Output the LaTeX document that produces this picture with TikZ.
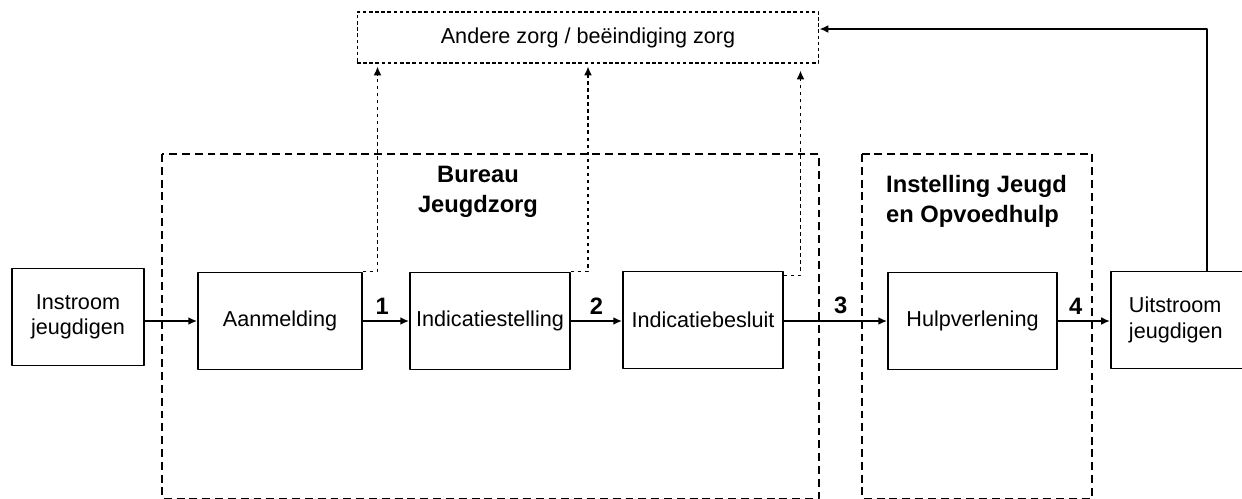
\documentclass[tikz,border=0pt]{standalone}
\usepackage{fontspec}
\setmainfont{Liberation Sans}
\usetikzlibrary{arrows.meta}
\tikzset{
	blok/.style={draw, line width=1.1pt, minimum height=1.94cm, inner sep=1pt, align=center, font=\fontsize{12.3}{14.5}\selectfont},
	zone/.style={draw, line width=1.1pt, dash pattern=on 4.5pt off 2.8pt},
	kop/.style={align=left, font=\bfseries\fontsize{13.5}{17}\selectfont},
	num/.style={above, font=\bfseries\fontsize{13.5}{16}\selectfont},
	flow/.style={->, line width=1.1pt},
	dotflow/.style={->, line width=0.9pt, dash pattern=on 2pt off 2pt}
}
\begin{document}
\begin{tikzpicture}[x=0.02cm, y=-0.02cm, >={Latex[length=5pt,width=4.5pt]}, line join=round]
		\clip (0,0) rectangle (1242,498);
		% zones
		\draw[zone] (162,154) rectangle (819,498.5);
		\draw[zone] (862,154) rectangle (1092,498.5);
		\node[kop, align=center] (bjz) at (478,192) {Bureau\\Jeugdzorg};
		\node[kop, anchor=west] (ijo) at (880,201) {Instelling Jeugd\\en Opvoedhulp};
		% boxes
		\node[draw, line width=0.6pt, dash pattern=on 2pt off 1.5pt, minimum width=9.24cm, minimum height=1.02cm, font=\fontsize{12.3}{14.5}\selectfont] (zorg) at (588,37.5) {Andere zorg / beëindiging zorg};
		\node[blok, minimum width=2.64cm] (instr) at (78,317) {Instroom\\jeugdigen};
		\node[blok, minimum width=3.28cm] (aanm) at (280,321) {Aanmelding};
		\node[blok, minimum width=3.2cm] (indic) at (490,321) {Indicatiestelling};
		\node[blok, minimum width=3.2cm] (besl) at (703,320) {Indicatiebesluit};
		\node[blok, minimum width=3.38cm] (hulp) at (972.5,321) {Hulpverlening};
		\node[blok, anchor=west, align=left, text width=2.6cm, inner xsep=0.36cm] (uit) at (1110,320) {Uitstroom\\jeugdigen};
		% flow
		\draw[flow] (aanm.west -| instr.east) -- (aanm.west);
		\draw[flow] (aanm.east) -- node[num, pos=.42]{1} (indic.west);
		\draw[flow] (indic.east) -- node[num]{2} (besl.west |- indic.east);
		\draw[flow] (besl.east |- hulp.west) -- node[num, pos=.55]{3} (hulp.west);
		\draw[flow] (hulp.east) -- node[num, pos=.34]{4} (uit.west |- hulp.east);
		\draw[flow] ([xshift=1.94cm]uit.north west) |- ([yshift=0.17cm]zorg.east);
		\draw[dotflow] (aanm.north east) -| ([xshift=0.42cm, yshift=-0.06cm]zorg.south west);
		\draw[dotflow] (indic.north east) -| ([yshift=-0.06cm]zorg.south);
		\draw[dotflow] ([yshift=-0.1cm]besl.north east) -| ([xshift=-0.38cm, yshift=-0.14cm]zorg.south east);
	\end{tikzpicture}
\end{document}
